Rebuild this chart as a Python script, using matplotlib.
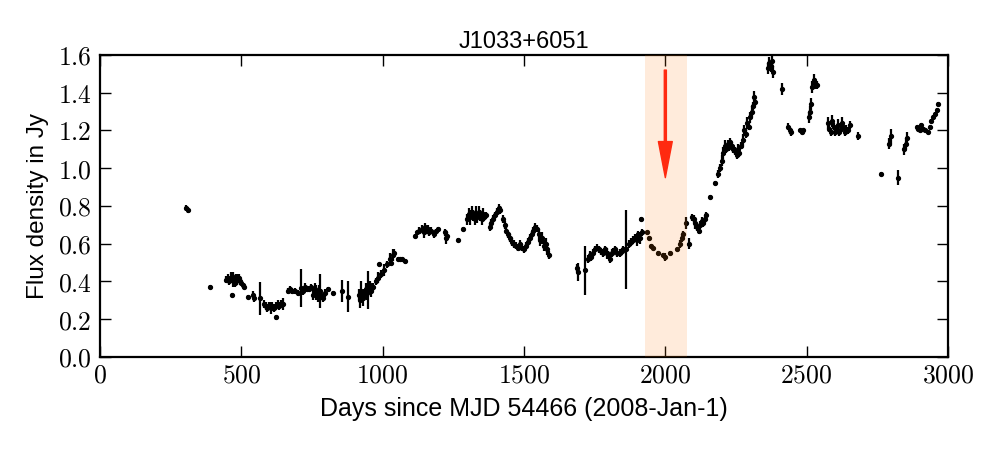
import matplotlib
matplotlib.use("Agg")
import matplotlib.pyplot as plt
from matplotlib.ticker import FuncFormatter, MultipleLocator
import numpy as np

# ---- data ----
days = [305, 310, 390,
        445, 452, 458, 463, 467, 468, 472, 477, 482, 486, 490, 495, 500, 505, 510,
        524, 541, 545, 566,
        580, 586, 592, 598, 604, 610, 616, 622, 623, 628, 634, 640, 646,
        665, 672, 680, 690, 700, 710, 718, 725, 732, 740, 748,
        755, 760, 765, 770, 775, 779, 782, 788, 795, 807, 825, 856, 877,
        915, 920, 925, 930, 935, 940, 945, 948, 955, 960, 965,
        975, 985, 987, 995, 1005, 1015, 1025, 1030, 1035, 1040, 1055, 1062, 1070, 1078,
        1114, 1120, 1130, 1138, 1145, 1150, 1155, 1160, 1165, 1172, 1180, 1188, 1195,
        1222, 1225, 1228, 1267, 1285,
        1300, 1305, 1310, 1315, 1320, 1325, 1330, 1335, 1340, 1345, 1350, 1355, 1360, 1365,
        1380, 1385, 1392, 1398, 1404, 1410, 1415,
        1425, 1432, 1438, 1445, 1450, 1458, 1465, 1472, 1480, 1487, 1493, 1500, 1507, 1513,
        1520, 1527, 1533, 1540, 1546, 1552, 1558, 1563, 1570, 1577, 1583, 1590,
        1687, 1690, 1716, 1725, 1732, 1738, 1745, 1752, 1758, 1765, 1772, 1778, 1785, 1792,
        1798, 1804, 1810, 1816, 1822, 1830, 1838, 1845, 1852, 1862, 1870, 1878, 1885, 1892,
        1898, 1905, 1910, 1914, 1918,
        1934, 1943, 1950, 1955, 1975, 1992, 2000, 2016, 2040, 2052, 2058, 2063, 2073, 2084,
        2095, 2100, 2106, 2112, 2118, 2124, 2130, 2135, 2140, 2145, 2158, 2175,
        2185, 2192, 2200, 2205, 2210, 2215, 2220, 2225, 2230, 2235, 2240, 2245, 2252, 2258,
        2262, 2268, 2274, 2280, 2285, 2290, 2295, 2300, 2305, 2310, 2315, 2318,
        2362, 2368, 2373, 2378, 2382, 2413,
        2435, 2440, 2446, 2477, 2482, 2487, 2508, 2512, 2516, 2520, 2525, 2530, 2536,
        2575, 2580, 2585, 2590, 2595, 2600, 2605, 2610, 2615, 2620, 2625, 2630, 2635, 2640,
        2645, 2655, 2681,
        2763, 2790, 2800, 2822, 2845, 2850, 2855,
        2890, 2895, 2900, 2905, 2910, 2920, 2928, 2935, 2940, 2948, 2955, 2960, 2965]

flux = [0.79, 0.78, 0.37,
        0.41, 0.42, 0.40, 0.42, 0.33, 0.43, 0.41, 0.39, 0.42, 0.41, 0.42, 0.40, 0.39, 0.38, 0.37,
        0.32, 0.33, 0.31, 0.31,
        0.28, 0.27, 0.26, 0.27, 0.26, 0.27, 0.26, 0.27, 0.21, 0.28, 0.27, 0.28, 0.28,
        0.35, 0.36, 0.35, 0.35, 0.34, 0.365, 0.35, 0.37, 0.36, 0.36, 0.37,
        0.33, 0.36, 0.34, 0.32, 0.35, 0.35, 0.33, 0.31, 0.34, 0.36, 0.34, 0.35, 0.32,
        0.33, 0.30, 0.35, 0.31, 0.33, 0.36, 0.34, 0.355, 0.38, 0.35, 0.37,
        0.40, 0.42, 0.49, 0.44, 0.46, 0.49, 0.52, 0.50, 0.54, 0.55, 0.52, 0.52, 0.52, 0.51,
        0.64, 0.66, 0.67, 0.68, 0.66, 0.69, 0.67, 0.68, 0.66, 0.67, 0.65, 0.67, 0.68,
        0.66, 0.63, 0.64, 0.62, 0.68,
        0.73, 0.76, 0.74, 0.77, 0.75, 0.73, 0.76, 0.74, 0.77, 0.75, 0.73, 0.76, 0.74, 0.75,
        0.69, 0.71, 0.73, 0.75, 0.77, 0.79, 0.78,
        0.73, 0.70, 0.67, 0.65, 0.63, 0.61, 0.60, 0.59, 0.58, 0.60, 0.58, 0.57, 0.59, 0.61,
        0.63, 0.65, 0.67, 0.69, 0.68, 0.65, 0.62, 0.63, 0.59, 0.60, 0.57, 0.54,
        0.47, 0.45, 0.46, 0.52, 0.54, 0.53, 0.55, 0.57, 0.58, 0.57, 0.56, 0.55, 0.57, 0.55,
        0.54, 0.52, 0.55, 0.56, 0.57, 0.55, 0.55, 0.56, 0.57, 0.57, 0.60, 0.61, 0.62, 0.63,
        0.62, 0.65, 0.63, 0.73, 0.66,
        0.66, 0.63, 0.59, 0.58, 0.55, 0.54, 0.53, 0.55, 0.57, 0.60, 0.63, 0.65, 0.71, 0.60,
        0.74, 0.73, 0.71, 0.69, 0.67, 0.70, 0.72, 0.71, 0.73, 0.75, 0.85, 0.92,
        0.97, 1.00, 1.04, 1.08, 1.12, 1.10, 1.13, 1.11, 1.14, 1.12, 1.10, 1.09, 1.07, 1.10,
        1.08, 1.12, 1.15, 1.20, 1.18, 1.24, 1.22, 1.27, 1.30, 1.33, 1.38, 1.35,
        1.53, 1.56, 1.54, 1.57, 1.51, 1.42,
        1.22, 1.20, 1.19, 1.20, 1.19, 1.20, 1.27, 1.30, 1.34, 1.43, 1.47, 1.45, 1.44,
        1.24, 1.21, 1.19, 1.25, 1.22, 1.19, 1.20, 1.23, 1.19, 1.21, 1.24, 1.22, 1.19, 1.21,
        1.20, 1.23, 1.17,
        0.97, 1.13, 1.17, 0.95, 1.10, 1.13, 1.16,
        1.22, 1.21, 1.20, 1.23, 1.21, 1.20, 1.19, 1.22, 1.25, 1.27, 1.29, 1.31, 1.34]

flux_err = [0.015, 0.015, 0.01,
            0.02, 0.02, 0.02, 0.03, 0.01, 0.02, 0.04, 0.02, 0.02, 0.03, 0.02, 0.02, 0.01, 0.01, 0.01,
            0.01, 0.02, 0.02, 0.085,
            0.02, 0.02, 0.02, 0.02, 0.03, 0.02, 0.02, 0.02, 0.015, 0.02, 0.02, 0.02, 0.03,
            0.015, 0.015, 0.015, 0.015, 0.015, 0.10, 0.02, 0.02, 0.015, 0.015, 0.015,
            0.03, 0.03, 0.04, 0.03, 0.03, 0.09, 0.03, 0.02, 0.02, 0.01, 0.01, 0.06, 0.08,
            0.03, 0.04, 0.05, 0.04, 0.03, 0.03, 0.04, 0.10, 0.02, 0.03, 0.02,
            0.02, 0.03, 0.01, 0.02, 0.03, 0.02, 0.03, 0.02, 0.03, 0.02, 0.01, 0.01, 0.01, 0.01,
            0.01, 0.01, 0.02, 0.02, 0.03, 0.02, 0.02, 0.02, 0.02, 0.02, 0.02, 0.01, 0.01,
            0.02, 0.03, 0.02, 0.01, 0.01,
            0.03, 0.03, 0.04, 0.03, 0.03, 0.03, 0.04, 0.03, 0.03, 0.03, 0.03, 0.03, 0.02, 0.02,
            0.02, 0.02, 0.02, 0.02, 0.02, 0.02, 0.02,
            0.02, 0.02, 0.02, 0.02, 0.02, 0.02, 0.02, 0.02, 0.02, 0.02, 0.02, 0.02, 0.02, 0.02,
            0.02, 0.02, 0.02, 0.02, 0.02, 0.03, 0.03, 0.03, 0.03, 0.03, 0.03, 0.02,
            0.02, 0.05, 0.13, 0.02, 0.02, 0.02, 0.02, 0.02, 0.02, 0.02, 0.02, 0.02, 0.02, 0.03,
            0.02, 0.02, 0.02, 0.02, 0.02, 0.02, 0.02, 0.02, 0.02, 0.21, 0.02, 0.02, 0.02, 0.02,
            0.03, 0.02, 0.03, 0.01, 0.02,
            0.01, 0.01, 0.01, 0.01, 0.01, 0.01, 0.02, 0.01, 0.01, 0.02, 0.02, 0.02, 0.03, 0.03,
            0.02, 0.02, 0.03, 0.02, 0.02, 0.02, 0.02, 0.02, 0.02, 0.02, 0.01, 0.01,
            0.02, 0.02, 0.03, 0.03, 0.03, 0.02, 0.02, 0.02, 0.02, 0.02, 0.02, 0.02, 0.02, 0.03,
            0.02, 0.02, 0.03, 0.03, 0.02, 0.03, 0.02, 0.03, 0.03, 0.02, 0.03, 0.02,
            0.03, 0.03, 0.03, 0.03, 0.03, 0.03,
            0.02, 0.02, 0.02, 0.01, 0.01, 0.01, 0.03, 0.03, 0.03, 0.03, 0.03, 0.03, 0.02,
            0.03, 0.02, 0.02, 0.03, 0.02, 0.02, 0.02, 0.03, 0.02, 0.02, 0.03, 0.02, 0.02, 0.02,
            0.02, 0.02, 0.02,
            0.01, 0.03, 0.04, 0.04, 0.03, 0.03, 0.03,
            0.01, 0.01, 0.01, 0.01, 0.01, 0.01, 0.01, 0.01, 0.01, 0.01, 0.01, 0.01, 0.01]

title = "J1033+6051"
x_label = "Days since MJD 54466 (2008-Jan-1)"
y_label = "Flux density in Jy"
span_start, span_end = 1928, 2076
arrow_x, arrow_top, arrow_tip = 2000, 1.52, 0.95

plt.rcParams['mathtext.fontset'] = 'cm'
sans = ['Liberation Sans', 'DejaVu Sans']

fig = plt.figure(figsize=(10, 4.5), dpi=100, facecolor='white')
ax = fig.add_axes([0.1, 0.2067, 0.848, 0.6711])

ax.errorbar(days, flux, yerr=flux_err, fmt='o', color='black', ecolor='black',
            markersize=2.8, elinewidth=1.6, capsize=0, zorder=2)
ax.axvspan(span_start, span_end, color='#ff7f0e', alpha=0.15, lw=0, zorder=3)
ax.annotate('', xy=(arrow_x, arrow_tip), xytext=(arrow_x, arrow_top),
            arrowprops=dict(facecolor='#ff2a10', edgecolor='#ff2a10', width=1.5,
                            headwidth=10, headlength=26, shrink=0), zorder=4)

ax.set_xlim(0, 3000)
ax.set_ylim(0.0, 1.6)
ax.xaxis.set_major_locator(MultipleLocator(500))
ax.yaxis.set_major_locator(MultipleLocator(0.2))
ax.xaxis.set_major_formatter(FuncFormatter(lambda v, p: r'$%d$' % v))
ax.yaxis.set_major_formatter(FuncFormatter(lambda v, p: r'$%.1f$' % v))
ax.tick_params(direction='in', top=True, right=True, length=8, width=1,
               labelsize=18.5, pad=6)
ax.tick_params(axis='x', pad=4)
for s in ax.spines.values():
    s.set_linewidth(1.6)

ax.set_title(title, fontsize=17, family=sans, pad=5)
ax.set_xlabel(x_label, fontsize=18, family=sans, labelpad=6)
ax.set_ylabel(y_label, fontsize=17.5, family=sans, labelpad=6)

fig.savefig('out.png', dpi=100, facecolor='white')
